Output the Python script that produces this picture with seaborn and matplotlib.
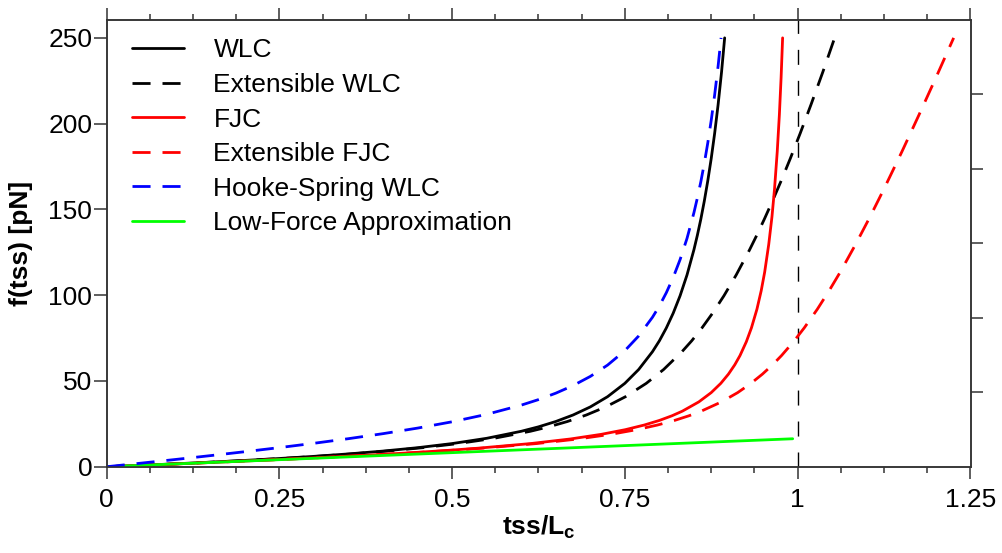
import numpy as np
import pandas as pd
import matplotlib
matplotlib.use("Agg")
import matplotlib.pyplot as plt
import seaborn as sns
from matplotlib.ticker import FixedLocator, FuncFormatter

# ---------------- data ----------------
wlc_x = [0.0, 0.05, 0.1, 0.15, 0.2, 0.25, 0.3, 0.35, 0.4, 0.45, 0.5, 0.55, 0.6,
         0.625, 0.65, 0.675, 0.7, 0.725, 0.75, 0.77, 0.79, 0.8, 0.81, 0.82,
         0.83, 0.84, 0.85, 0.855, 0.86, 0.865, 0.87, 0.875, 0.88, 0.885, 0.89,
         0.8945]
wlc_f = [0.0, 0.832, 1.71, 2.657, 3.68, 4.80, 6.05, 7.47, 9.12, 11.09, 13.5,
         16.57, 20.66, 23.25, 26.36, 30.15, 34.86, 40.83, 48.6, 56.66, 67.06,
         73.4, 80.84, 89.5, 99.69, 111.8, 126.48, 134.96, 144.3, 154.79, 166.5,
         179.55, 194.3, 211.0, 230.1, 250.0]

ewlc_x = [0.0, 0.0505, 0.1011, 0.1517, 0.2023, 0.2531, 0.3039, 0.3548, 0.4058,
          0.4571, 0.5086, 0.5606, 0.6132, 0.6398, 0.6668, 0.6942, 0.7222,
          0.751, 0.781, 0.8061, 0.8327, 0.8468, 0.8615, 0.877, 0.8935, 0.9112,
          0.9306, 0.941, 0.9519, 0.9636, 0.9761, 0.9894, 1.0038, 1.0194,
          1.0366, 1.0537]
ewlc_f = [0.0, 0.832, 1.71, 2.657, 3.68, 4.80, 6.05, 7.47, 9.12, 11.09, 13.5,
          16.57, 20.66, 23.25, 26.36, 30.15, 34.86, 40.83, 48.6, 56.66, 67.06,
          73.4, 80.84, 89.5, 99.69, 111.8, 126.48, 134.96, 144.3, 154.79, 166.5,
          179.55, 194.3, 211.0, 230.1, 250.0]

fjc_x = [0.0, 0.083, 0.164, 0.2411, 0.313, 0.3789, 0.4381, 0.4909, 0.5373,
         0.6136, 0.6716, 0.7161, 0.7507, 0.778, 0.8001, 0.8182, 0.8333, 0.8571,
         0.875, 0.8889, 0.9, 0.9091, 0.9167, 0.9259, 0.9333, 0.9412, 0.9474,
         0.9524, 0.9583, 0.963, 0.9667, 0.9706, 0.9737, 0.9762, 0.9784]
fjc_f = [0.0, 1.35, 2.7, 4.05, 5.4, 6.75, 8.1, 9.45, 10.8, 13.5, 16.2, 18.9,
         21.6, 24.3, 27.0, 29.7, 32.4, 37.8, 43.2, 48.6, 54.0, 59.4, 64.8, 72.9,
         81.0, 91.8, 102.6, 113.4, 129.6, 145.8, 162.0, 183.6, 205.2, 226.8,
         250.0]

efjc_x = [0.0, 0.0831, 0.1644, 0.2421, 0.3147, 0.3814, 0.4417, 0.4955, 0.5432,
          0.622, 0.6826, 0.7298, 0.7671, 0.7971, 0.822, 0.8428, 0.8606, 0.8899,
          0.9133, 0.9326, 0.9492, 0.9638, 0.9768, 0.9942, 1.0098, 1.0286,
          1.0457, 1.0617, 1.084, 1.1051, 1.1252, 1.151, 1.1759, 1.2003, 1.226]
efjc_f = [0.0, 1.35, 2.7, 4.05, 5.4, 6.75, 8.1, 9.45, 10.8, 13.5, 16.2, 18.9,
          21.6, 24.3, 27.0, 29.7, 32.4, 37.8, 43.2, 48.6, 54.0, 59.4, 64.8,
          72.9, 81.0, 91.8, 102.6, 113.4, 129.6, 145.8, 162.0, 183.6, 205.2,
          226.8, 250.0]

hooke_x = [0.0, 0.05, 0.1, 0.15, 0.2, 0.25, 0.3, 0.35, 0.4, 0.45, 0.5, 0.55,
           0.6, 0.625, 0.65, 0.675, 0.7, 0.725, 0.75, 0.77, 0.79, 0.8, 0.81,
           0.82, 0.83, 0.84, 0.85, 0.855, 0.86, 0.865, 0.87, 0.875, 0.88, 0.885,
           0.8893]
hooke_f = [0.0, 2.10, 4.25, 6.47, 8.76, 11.15, 13.67, 16.36, 19.28, 22.52,
           26.2, 30.54, 35.9, 39.13, 42.87, 47.30, 52.64, 59.25, 67.65, 76.22,
           87.13, 93.7, 101.41, 110.3, 120.77, 133.1, 148.07, 156.7, 166.1,
           176.76, 188.6, 201.78, 216.7, 233.5, 250.0]

low_x = [0.0, 0.993]
low_f = [0.0, 16.3]

labels = ["WLC", "Extensible WLC", "FJC", "Extensible FJC",
          "Hooke-Spring WLC", "Low-Force Approximation"]
colors = ["#000000", "#000000", "#ff0000", "#ff0000", "#0000ff", "#00ff00"]

x_major = [0, 0.25, 0.5, 0.75, 1.0, 1.25]
y_major = [0, 50, 100, 150, 200, 250]
right_ticks = [43.4, 86.8, 130.2, 173.6, 217.0]

# ---------------- style ----------------
sns.set_theme(style="ticks")
plt.rcParams["font.family"] = ["Liberation Sans", "DejaVu Sans"]
plt.rcParams["mathtext.fontset"] = "custom"
plt.rcParams["mathtext.rm"] = "Liberation Sans"
plt.rcParams["mathtext.bf"] = "Liberation Sans:bold"
plt.rcParams["mathtext.it"] = "Liberation Sans:italic"
plt.rcParams["text.color"] = "black"
plt.rcParams["axes.labelcolor"] = "black"
plt.rcParams["xtick.labelcolor"] = "black"
plt.rcParams["ytick.labelcolor"] = "black"

spine_col = "#333333"
fs = 19

fig = plt.figure(figsize=(10.02, 5.53), dpi=100)
ax = fig.add_axes([0.1065, 0.156, 0.8625, 0.8084])

dash = (0, (6.5, 4.3))
series = [
    (wlc_x, wlc_f, "-", 3),
    (ewlc_x, ewlc_f, dash, 3),
    (fjc_x, fjc_f, "-", 3),
    (efjc_x, efjc_f, dash, 3),
    (hooke_x, hooke_f, dash, 5),
    (low_x, low_f, "-", 4),
]
handles = []
for (xs, ys, ls, z), lab, col in zip(series, labels, colors):
    df = pd.DataFrame({"x": xs, "f": ys})
    sns.lineplot(data=df, x="x", y="f", ax=ax, color=col, linewidth=2.0,
                 linestyle=ls, sort=False, estimator=None, zorder=z)
    ln = ax.lines[-1]
    ln.set_label(lab)
    handles.append(ln)

ax.axvline(1.0, color="black", linewidth=1.0, linestyle=(0, (10.8, 11.5)), zorder=2)

ax.set_xlim(0, 1.251)
ax.set_ylim(0, 260.6)

ax.xaxis.set_major_locator(FixedLocator(x_major))
ax.xaxis.set_minor_locator(FixedLocator(list(np.arange(0, 1.26, 0.0625))))
ax.xaxis.set_major_formatter(FuncFormatter(lambda v, p: f"{v:g}"))
ax.yaxis.set_major_locator(FixedLocator(y_major))
ax.yaxis.set_minor_locator(FixedLocator([]))

ax.tick_params(axis="x", which="major", direction="out", length=8.5, width=1.1,
               color=spine_col, labelsize=fs, pad=7, top=True, bottom=True,
               labelcolor="black")
ax.tick_params(axis="x", which="minor", direction="out", length=4.6, width=1.1,
               color=spine_col, top=True, bottom=True)
ax.tick_params(axis="y", which="major", direction="out", length=9.5, width=1.1,
               color=spine_col, labelsize=fs, pad=1, left=True, right=False,
               labelcolor="black")

for s in ax.spines.values():
    s.set_color(spine_col)
    s.set_linewidth(1.1)
    s.set_visible(True)

ax2 = ax.twinx()
ax2.set_ylim(ax.get_ylim())
ax2.yaxis.set_major_locator(FixedLocator(right_ticks))
ax2.set_yticklabels([])
ax2.tick_params(axis="y", direction="out", length=8.9, width=1.1, color=spine_col)
for s in ax2.spines.values():
    s.set_color(spine_col)
    s.set_linewidth(1.1)

ax.set_xlabel(r"tss/L$_\mathbf{c}$", fontsize=fs, fontweight="bold",
              labelpad=1, color="black")
ax.set_ylabel("f(tss) [pN]", fontsize=fs, fontweight="bold", labelpad=11,
              color="black")

leg = ax.legend(handles=handles, labels=labels, loc="upper left",
                bbox_to_anchor=(0.0289, 0.958), frameon=False, fontsize=fs,
                handlelength=2.0, handletextpad=1.1, labelspacing=0.4,
                borderpad=0, borderaxespad=0)
for t in leg.get_texts():
    t.set_color("black")

fig.savefig("out.png", dpi=100)
